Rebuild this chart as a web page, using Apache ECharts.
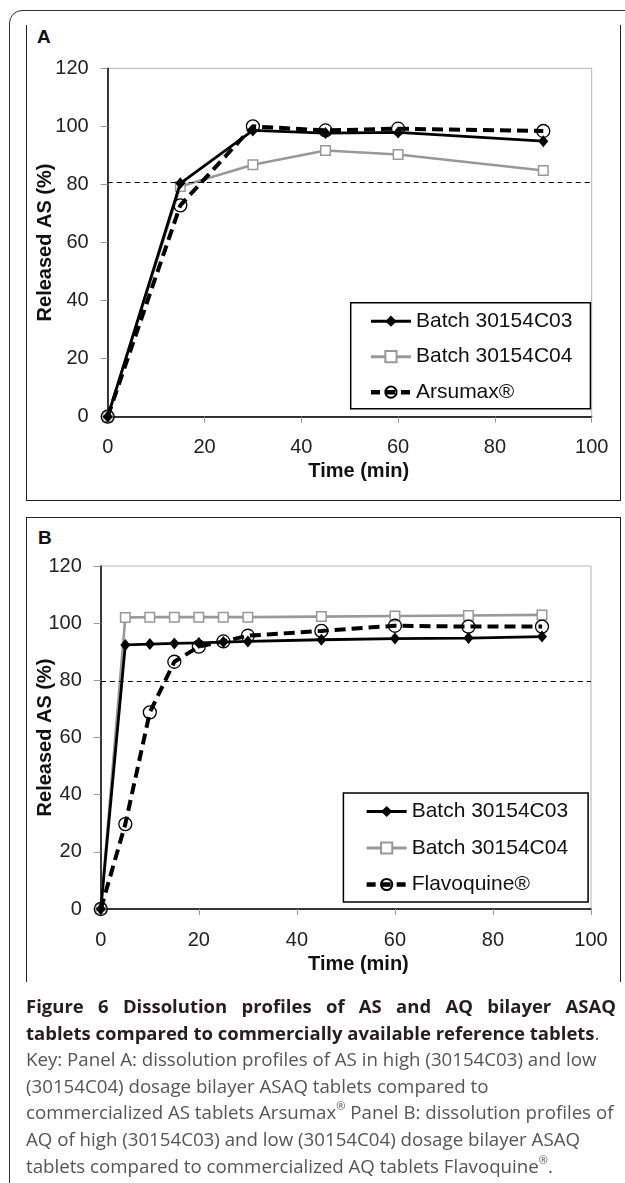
<!DOCTYPE html>
<html>
<head>
<meta charset="utf-8">
<script src="https://cdn.jsdelivr.net/npm/echarts@6/dist/echarts.min.js"></script>
<style>
  html, body { margin:0; padding:0; background:#fff; }
  body { width:625px; height:1183px; position:relative; overflow:hidden; font-family:"Liberation Sans", Arial, sans-serif; }
  .outer { position:absolute; left:9px; top:10px; width:700px; height:1200px; border:1.5px solid #333; border-radius:13px; box-sizing:border-box; }
  .panelA { position:absolute; left:26px; top:25px; width:595px; height:476px; border-left:1.5px solid #222; border-right:1.5px solid #222; border-bottom:1.5px solid #222; box-sizing:border-box; }
  .panelB { position:absolute; left:26px; top:517px; width:595px; height:465px; border-left:1.5px solid #222; border-right:1.5px solid #222; border-top:1.5px solid #222; box-sizing:border-box; }
  .plabel { position:absolute; font-weight:bold; font-size:19px; color:#111; font-family:"Liberation Sans", Arial, sans-serif; }
  #chart { position:absolute; left:0; top:0; width:625px; height:1183px; }
  .caption { position:absolute; left:26px; top:993px; width:590px; font-family:"Open Sans", sans-serif; font-size:18.7px; line-height:26.6px; color:#555; }
  .caption .l { white-space:nowrap; }
  .caption .b { font-weight:bold; color:#231f20; font-size:18.5px; }
  .caption .j { text-align:justify; text-align-last:justify; }
  .caption sup { font-size:11px; vertical-align:9px; line-height:0; }
</style>
</head>
<body>
<div class="outer"></div>
<div class="panelA"></div>
<div class="panelB"></div>
<div class="plabel" style="left:37px; top:26px;">A</div>
<div class="plabel" style="left:38px; top:527px;">B</div>
<div id="chart"></div>
<div class="caption">
  <div class="l b j">Figure 6 Dissolution profiles of AS and AQ bilayer ASAQ</div>
  <div class="l"><span class="b">tablets compared to commercially available reference tablets</span>.</div>
  <div class="l">Key: Panel A: dissolution profiles of AS in high (30154C03) and low</div>
  <div class="l">(30154C04) dosage bilayer ASAQ tablets compared to</div>
  <div class="l">commercialized AS tablets Arsumax<sup>®</sup> Panel B: dissolution profiles of</div>
  <div class="l">AQ of high (30154C03) and low (30154C04) dosage bilayer ASAQ</div>
  <div class="l">tablets compared to commercialized AQ tablets Flavoquine<sup>®</sup>.</div>
</div>
<script>
// ---- Data ----
const xTicks = [0, 20, 40, 60, 80, 100];
const yTicks = [0, 20, 40, 60, 80, 100, 120];

// Panel A (time in min, released %)
const timeA = [0, 15, 30, 45, 60, 90];
const batchC03_A = [0, 80.4, 98.6, 97.7, 97.9, 94.9];
const batchC04_A = [0, 79.3, 86.8, 91.7, 90.3, 84.8];
const arsumax_A  = [0, 72.8, 100.0, 98.6, 99.2, 98.4];
const refLineA = 80.6;

// Panel B
const timeB = [0, 5, 10, 15, 20, 25, 30, 45, 60, 75, 90];
const batchC03_B = [0, 92.4, 92.7, 92.9, 93.1, 93.4, 93.6, 94.2, 94.6, 94.8, 95.3];
const batchC04_B = [0, 102.0, 102.1, 102.1, 102.1, 102.1, 102.1, 102.3, 102.5, 102.7, 102.9];
const flavoquine_B = [0, 29.7, 68.8, 86.5, 91.8, 93.6, 95.6, 97.3, 99.1, 98.8, 98.8];
const refLineB = 79.6;

const namesA = ['Batch 30154C03', 'Batch 30154C04', 'Arsumax®'];
const namesB = ['Batch 30154C03', 'Batch 30154C04', 'Flavoquine®'];

const pairs = (xs, ys) => xs.map((x, i) => [x, ys[i]]);

const FONT = '"Liberation Sans", Arial, sans-serif';

function xAxisCfg(gridIndex, padLeft) {
  return {
    type: 'value', gridIndex, min: xTicks[0], max: xTicks[xTicks.length - 1], interval: 20,
    name: 'Time (min)', nameLocation: 'middle', nameGap: 45, nameMoveOverlap: false,
    nameTextStyle: { fontFamily: FONT, fontWeight: 'bold', fontSize: 20, color: '#111', padding: [0, 0, 0, padLeft] },
    axisLine: { show: true, onZero: false, lineStyle: { color: '#000', width: 1.5 } },
    axisTick: { show: true, length: 6, lineStyle: { color: '#999', width: 1 } },
    axisLabel: { fontFamily: FONT, fontSize: 20, color: '#222', margin: 21 },
    splitLine: { show: false }
  };
}
function yAxisCfg(gridIndex, gap) {
  return {
    type: 'value', gridIndex, min: yTicks[0], max: yTicks[yTicks.length - 1], interval: 20,
    name: 'Released AS (%)', nameLocation: 'middle', nameGap: gap, nameMoveOverlap: false,
    nameTextStyle: { fontFamily: FONT, fontWeight: 'bold', fontSize: 20, color: '#111' },
    axisLine: { show: true, onZero: false, lineStyle: { color: '#000', width: 1.5 } },
    axisTick: { show: true, length: 7, lineStyle: { color: '#999', width: 1 } },
    axisLabel: { fontFamily: FONT, fontSize: 20, color: '#222', margin: 19 },
    splitLine: { show: false }
  };
}

function seriesSet(idx, xs, s1, s2, s3, names, refY) {
  return [
    {
      name: names[0], type: 'line', xAxisIndex: idx, yAxisIndex: idx, data: pairs(xs, s1),
      symbol: 'diamond', symbolSize: [10, 12], z: 3,
      lineStyle: { color: '#000', width: 2.8 },
      itemStyle: { color: '#000' },
      markLine: {
        silent: true, symbol: 'none', label: { show: false },
        lineStyle: { color: '#000', width: 1.2, type: [5, 4] },
        data: [{ yAxis: refY }]
      }
    },
    {
      name: names[1], type: 'line', xAxisIndex: idx, yAxisIndex: idx, data: pairs(xs, s2),
      symbol: 'rect', symbolSize: 9.5, z: 2,
      lineStyle: { color: '#999', width: 2.6 },
      itemStyle: { color: '#fff', borderColor: '#999', borderWidth: 1.5 }
    },
    {
      name: names[2], type: 'line', xAxisIndex: idx, yAxisIndex: idx, data: pairs(xs, s3),
      symbol: 'circle', symbolSize: 13, z: 4,
      lineStyle: { color: '#000', width: 4, type: [11, 6] },
      itemStyle: { color: 'rgba(255,255,255,0)', borderColor: '#000', borderWidth: 1.3 }
    }
  ];
}

function legendCfg(names, left, top, padding, gap) {
  return {
    data: [
      { name: names[0], lineStyle: { width: 3, color: '#000' } },
      { name: names[1], lineStyle: { width: 3, color: '#999' } },
      { name: names[2], lineStyle: { width: 4.5, color: '#000', type: [9, 6] } }
    ],
    orient: 'vertical', left, top, padding, itemGap: gap,
    itemWidth: 40, itemHeight: 14,
    backgroundColor: '#fff', borderColor: '#000', borderWidth: 1.5, borderRadius: 0,
    textStyle: { fontFamily: FONT, fontSize: 21, color: '#111' }
  };
}

const chart = echarts.init(document.getElementById('chart'), null, { renderer: 'canvas' });
chart.setOption({
  animation: false,
  backgroundColor: 'transparent',
  grid: [
    { left: 107.7, right: 33.3, top: 68.3, height: 348.4, show: true, borderColor: '#b5b5b5', borderWidth: 1, containLabel: false },
    { left: 100.8, right: 34, top: 566, height: 343, show: true, borderColor: '#b5b5b5', borderWidth: 1, containLabel: false }
  ],
  xAxis: [xAxisCfg(0, 18), xAxisCfg(1, 25)],
  yAxis: [yAxisCfg(0, 52), yAxisCfg(1, 45)],
  legend: [
    legendCfg(namesA, 350.7, 302.7, [8, 18, 6, 18], 14.5),
    legendCfg(namesB, 343.4, 793, [8, 20, 7, 21], 15.5)
  ],
  series: [
    ...seriesSet(0, timeA, batchC03_A, batchC04_A, arsumax_A, namesA, refLineA),
    ...seriesSet(1, timeB, batchC03_B, batchC04_B, flavoquine_B, namesB, refLineB)
  ]
});
</script>
</body>
</html>
